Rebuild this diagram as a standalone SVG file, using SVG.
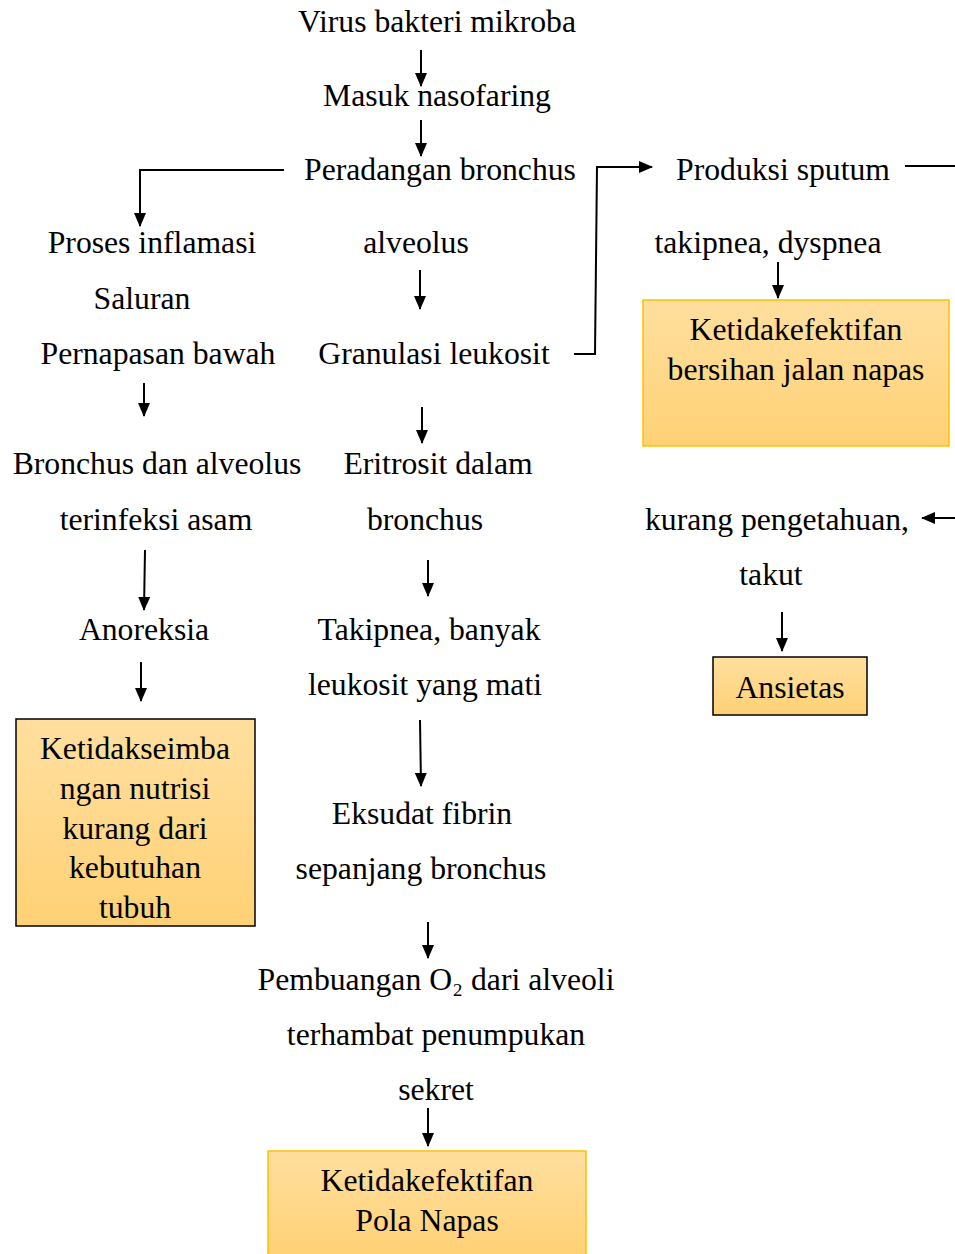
<svg xmlns="http://www.w3.org/2000/svg" width="955" height="1254" viewBox="0 0 955 1254">
<style>
text{font-family:"Liberation Serif","Times New Roman",serif;font-size:31.7px;fill:#000;text-anchor:middle}
.c{stroke:#000;stroke-width:2;fill:none}
.a{marker-end:url(#ah)}
.bo{fill:url(#g);stroke:#FFC000;stroke-width:1.5}
.bd{fill:url(#g);stroke:#000;stroke-width:1.5}
</style>
<defs>
<linearGradient id="g" x1="0" y1="0" x2="0" y2="1">
<stop offset="0" stop-color="#FFDF9F"/>
<stop offset="1" stop-color="#FFD175"/>
</linearGradient>
<marker id="ah" viewBox="0 0 14 12" refX="13" refY="6" markerWidth="7" markerHeight="6" orient="auto" markerUnits="strokeWidth">
<path d="M0,0 L14,6 L0,12 z" fill="#000"/>
</marker>
<clipPath id="clipN"><rect x="16" y="719" width="239" height="199"/></clipPath>
</defs>
<rect width="955" height="1254" fill="#fff"/>

<g id="connectors">
<line class="c a" x1="421" y1="50" x2="421" y2="86"/>
<line class="c a" x1="421" y1="120" x2="421" y2="156"/>
<polyline class="c a" points="284,170 140,170 140,226"/>
<polyline class="c a" points="574,354 595,354 597,167 652,167"/>
<line class="c" x1="905" y1="166" x2="955" y2="166"/>
<line class="c a" x1="778" y1="262" x2="778" y2="298"/>
<line class="c a" x1="420" y1="270" x2="420" y2="309"/>
<line class="c a" x1="144" y1="383" x2="144" y2="416"/>
<line class="c a" x1="422" y1="407" x2="422" y2="443"/>
<line class="c a" x1="955" y1="518" x2="922" y2="518"/>
<line class="c a" x1="145" y1="550" x2="144" y2="610"/>
<line class="c a" x1="428" y1="560" x2="428" y2="596"/>
<line class="c a" x1="782" y1="612" x2="782" y2="651"/>
<line class="c a" x1="141" y1="662" x2="141" y2="701"/>
<line class="c a" x1="420" y1="720" x2="421" y2="786"/>
<line class="c a" x1="428" y1="922" x2="428" y2="958"/>
<line class="c a" x1="428" y1="1108" x2="428" y2="1146"/>
</g>

<g id="n-virus"><text x="437" y="32">Virus bakteri mikroba</text></g>
<g id="n-masuk"><text x="437" y="106">Masuk nasofaring</text></g>
<g id="n-peradangan"><text x="440" y="180">Peradangan bronchus</text><text x="416" y="253">alveolus</text></g>
<g id="n-produksi"><text x="783" y="180">Produksi sputum</text></g>
<g id="n-takipnea1"><text x="768" y="253">takipnea, dyspnea</text></g>
<g id="n-bersihan">
<rect class="bo" x="643" y="300" width="306" height="146"/>
<text x="796" y="340">Ketidakefektifan</text>
<text x="796" y="380">bersihan jalan napas</text>
</g>
<g id="n-proses"><text x="152" y="253">Proses inflamasi</text><text x="142" y="309">Saluran</text><text x="158" y="364">Pernapasan bawah</text></g>
<g id="n-granulasi"><text x="434" y="364">Granulasi leukosit</text></g>
<g id="n-bronchus"><text x="157" y="474">Bronchus dan alveolus</text><text x="156" y="530">terinfeksi asam</text></g>
<g id="n-eritrosit"><text x="438" y="474">Eritrosit dalam</text><text x="425" y="530">bronchus</text></g>
<g id="n-kurang"><text x="777" y="530">kurang pengetahuan,</text><text x="771" y="585">takut</text></g>
<g id="n-ansietas">
<rect class="bd" x="713" y="657" width="154" height="58"/>
<text x="790" y="698">Ansietas</text>
</g>
<g id="n-anoreksia"><text x="144" y="640">Anoreksia</text></g>
<g id="n-takipnea2"><text x="429" y="640">Takipnea, banyak</text><text x="425" y="695">leukosit yang mati</text></g>
<g id="n-nutrisi">
<rect class="bd" x="16" y="719" width="239" height="207"/>
<g clip-path="url(#clipN)">
<text x="135" y="759">Ketidakseimba</text>
<text x="135" y="799">ngan nutrisi</text>
<text x="135" y="839">kurang dari</text>
<text x="135" y="878">kebutuhan</text>
<text x="135" y="918">tubuh</text>
</g>
</g>
<g id="n-eksudat"><text x="422" y="824">Eksudat fibrin</text><text x="421" y="879">sepanjang bronchus</text></g>
<g id="n-pembuangan"><text x="436" y="990">Pembuangan O₂ dari alveoli</text><text x="436" y="1045">terhambat penumpukan</text><text x="436" y="1100">sekret</text></g>
<g id="n-pola">
<path class="bo" d="M268,1256 L268,1151 L586,1151 L586,1256"/>
<text x="427" y="1191">Ketidakefektifan</text>
<text x="427" y="1231">Pola Napas</text>
</g>
</svg>
